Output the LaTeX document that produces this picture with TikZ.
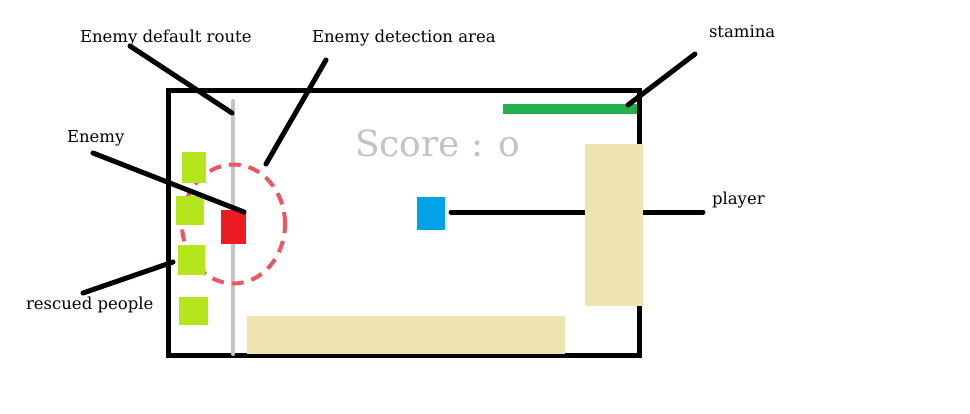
\documentclass[tikz,border=0pt]{standalone}
\usepackage{fontspec}
\setmainfont{DejaVu Serif}
\usetikzlibrary{shapes.geometric}
\definecolor{people}{RGB}{181,230,29}
\definecolor{enemyred}{RGB}{237,28,36}
\definecolor{playerblue}{RGB}{0,162,232}
\definecolor{wall}{RGB}{239,228,176}
\definecolor{staminagreen}{RGB}{34,177,76}
\definecolor{route}{RGB}{195,195,195}
\definecolor{detect}{RGB}{235,85,100}

\begin{document}
\begin{tikzpicture}
  [x=1pt, y=-1pt, every node/.style={inner sep=0pt, outer sep=0pt},
   lbl/.style={anchor=base west, font=\fontsize{16.5}{18}\selectfont},
   blk/.style 2 args={rectangle, minimum width=#1pt, minimum height=#2pt},
   leader/.style={line width=5pt, line cap=round}]
  \useasboundingbox (0,0) rectangle (970,413);

  % game area
  \node [blk={471}{265}, draw, line width=5pt] (frame) at (403.5,223) {};
  \draw [route, line width=4pt, line cap=round] (233,101) -- (233,354);
  \node [blk={318}{38}, fill=wall] (wall1) at (406,335) {};
  \node [draw=detect, line width=4pt, dash pattern=on 12pt off 8pt,
         ellipse, minimum width=103pt, minimum height=119pt] (area) at (233.5,224) {};

  % rescued people
  \node [blk={24}{31}, fill=people] (g1) at (194,167.5) {};
  \node [blk={28}{29}, fill=people] (g2) at (190,210.5) {};
  \node [blk={27}{30}, fill=people] (g3) at (191.5,260) {};
  \node [blk={29}{28}, fill=people] (g4) at (193.5,311) {};

  \node [blk={25}{34}, fill=enemyred] (enemy) at (233.5,227) {};
  \node [blk={28}{33}, fill=playerblue] (player) at (431,213.5) {};
  \node [blk={134}{10}, fill=staminagreen] (stamina) at (570,109) {};

  \node [anchor=base west, font=\fontsize{36}{40}\selectfont, text=route] (score) at (355,156) {Score : o};

  % labels
  \node [lbl] (t1) at (80,42) {Enemy default route};
  \node [lbl] (t2) at (312,42) {Enemy detection area};
  \node [lbl] (t3) at (709,37) {stamina};
  \node [lbl] (t4) at (67,142) {Enemy};
  \node [lbl] (t5) at (712,204) {player};
  \node [lbl] (t6) at (26,309) {rescued people};

  % leader ends
  \coordinate (c1a) at (130,46);
  \coordinate (c1b) at (232,113);
  \coordinate (c2a) at (326,60);
  \coordinate (c2b) at (266,164);
  \coordinate (c3a) at (695,54);
  \coordinate (c3b) at (628,105);
  \coordinate (c4a) at (93,153);
  \coordinate (c5a) at (451,212);
  \coordinate (c5b) at (703,212);
  \coordinate (c6a) at (83,293);
  \coordinate (c6b) at (173,262);

  % leaders
  \draw [leader] (c1a) -- (c1b);
  \draw [leader] (c2a) -- (c2b);
  \draw [leader] (c3a) -- (c3b);
  \draw [leader] (c4a) -- ([shift={(-2,2)}]enemy.north east);
  \draw [leader] (c5a) -- (c5b);
  \draw [leader] (c6a) -- (c6b);

  % wall on top of frame
  \node [blk={58}{162}, fill=wall] (wall2) at (614,225) {};
\end{tikzpicture}
\end{document}
